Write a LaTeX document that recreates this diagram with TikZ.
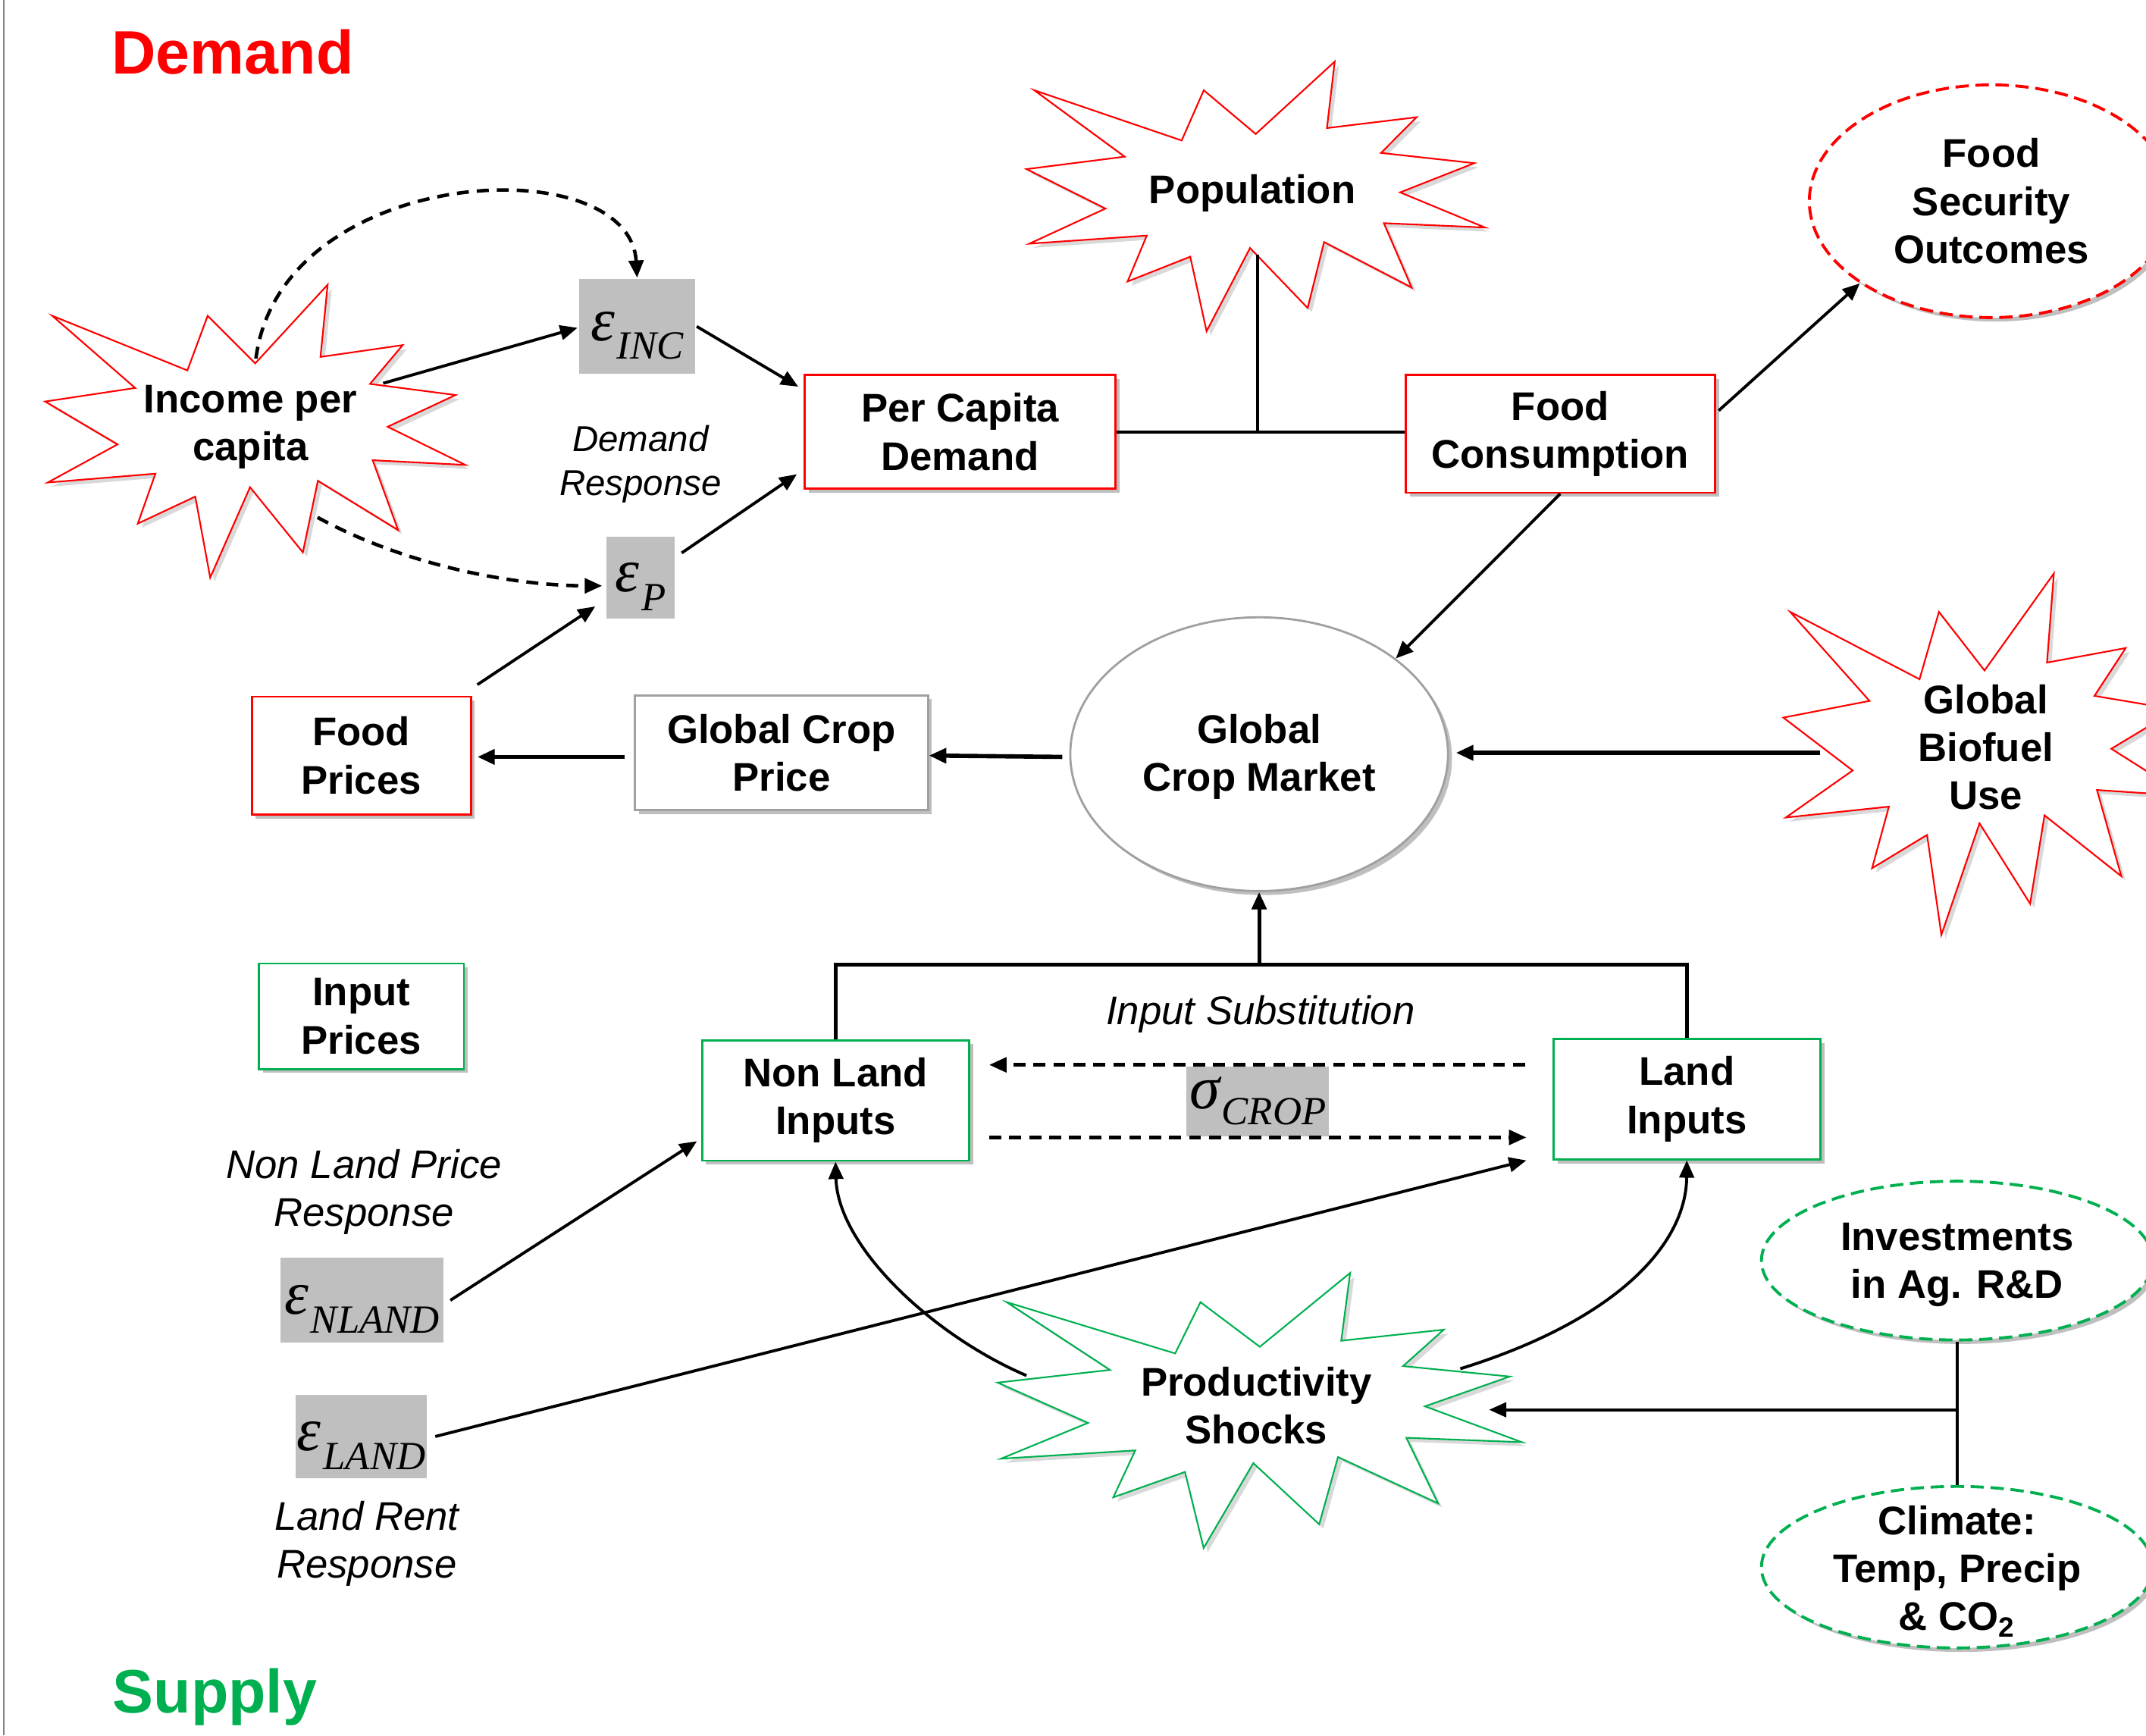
\documentclass[tikz,border=0pt]{standalone}
\usepackage{fontspec}
\setmainfont{Liberation Sans}
\newfontfamily\tnr{Liberation Serif}
\usetikzlibrary{arrows.meta,shapes.geometric,calc,shadows}
\definecolor{dred}{HTML}{FF0000}
\definecolor{dgreen}{HTML}{00B050}
\definecolor{boxgray}{HTML}{BFBFBF}
\definecolor{edgegray}{HTML}{A0A0A0}
\def\unitpx{0.018055cm}
\newcommand\sealcmd[1]{#1 (50,26.85) -- (67.23,0) -- (65.53,24.65) -- (85.09,20.63) -- (77.32,33.87) -- (97.67,37.67) -- (81.51,48.50) -- (100,61.53) -- (77.95,59.92) -- (84.00,83.77) -- (64.91,66.93) -- (61.33,91.38) -- (48.76,69.14) -- (39.28,100) -- (35.72,72.35) -- (22.05,81.56) -- (26.24,64.52) -- (0.625,67.53) -- (17.23,54.51) -- (0,39.88) -- (21.42,35.26) -- (1.71,10.63) -- (33.85,29.26) -- (38.67,10.63) -- cycle;}
\newcommand\drawseal[5]{%
  \begin{scope}[shift={(#1+3,#2+3)},xscale=#3/100,yscale=#4/100]
    \sealcmd{\fill[black,opacity=0.15]}
  \end{scope}
  \begin{scope}[shift={(#1,#2)},xscale=#3/100,yscale=#4/100]
    \sealcmd{\draw[#5,fill=white,line width=0.6pt]}
  \end{scope}}
\newcommand\epsl[3][-7pt]{{\tnr\itshape\fontsize{23}{23}\selectfont #2\hspace{0.8pt}\raisebox{#1}[0pt][0pt]{\fontsize{15}{15}\selectfont #3}}}
\begin{document}
\begin{tikzpicture}[x=0.018055cm,y=-0.018055cm,
  >={Triangle[length=6.5pt,width=5.5pt]}, line width=1.1pt,
  lbl/.style={font=\fontsize{15}{18}\selectfont\bfseries, align=center},
  itl/.style={font=\fontsize{15}{18}\selectfont\itshape, align=center},
  sz/.style 2 args={minimum width=#1*\unitpx, minimum height=#2*\unitpx, inner sep=0pt},
  shad/.style={drop shadow={shadow xshift=1.5pt,shadow yshift=-1.5pt,opacity=0.25,fill=black}},
  redbox/.style={lbl, draw=dred, line width=0.8pt, fill=white, shad},
  greenbox/.style={lbl, draw=dgreen, line width=0.8pt, fill=white, shad},
  graybox/.style={lbl, draw=edgegray, line width=0.8pt, fill=white, shad},
  epsbox/.style={fill=boxgray, inner sep=0pt},
  dsh/.style={dash pattern=on 4.5pt off 3pt, line width=1.3pt},
  edash/.style={dash pattern=on 5pt off 2.5pt, line width=1.1pt},
  thickln/.style={line width=1.6pt}]
\useasboundingbox (0,0) rectangle (1568,1268);
\fill[white] (0,0) rectangle (1568,1268);
\draw[gray,line width=0.6pt] (3,0) -- (3,1268);

% starbursts
\drawseal{33}{208}{307}{214}{dred}
\drawseal{750}{45}{335}{197}{dred}
\drawseal{1303}{419}{294}{264}{dred}
\drawseal{729}{930}{383}{201}{dgreen}

% titles
\node[font=\fontsize{23}{26}\selectfont\bfseries,text=dred] (demand) at (170,38) {Demand};
\node[font=\fontsize{23}{26}\selectfont\bfseries,text=dgreen] (supply) at (157,1240) {Supply};

% starburst texts
\node[lbl] (income) at (183,312) {Income per\\capita};
\node[lbl] (pop) at (915,141) {Population};
\node[lbl] (bio) at (1451,546) {Global\\Biofuel\\Use};
\node[lbl] (prod) at (918,1027) {Productivity\\Shocks};

% boxes
\node[redbox,sz={227}{83}] (pcd) at (701.5,315.5) {Per Capita\\Demand};
\node[redbox,sz={226}{86}] (fcons) at (1140,317) {Food\\Consumption};
\node[redbox,sz={160}{86}] (fprices) at (264,552) {Food\\Prices};
\node[graybox,sz={214}{84}] (gcp) at (571,550) {Global Crop\\Price};
\node[greenbox,sz={150}{77}] (inprices) at (264,742.5) {Input\\Prices};
\node[greenbox,sz={195}{88}] (nli) at (610.5,804) {Non Land\\Inputs};
\node[greenbox,sz={195}{88}] (li) at (1232.5,803) {Land\\Inputs};

% ellipses
\node[ellipse,draw=edgegray,line width=0.8pt,fill=white,shad,sz={276}{200}] (gcm) at (920,551) {};
\node[lbl] (gcmt) at (920,553) {Global\\Crop Market};
\node[lbl,ellipse,draw=dred,edash,fill=white,shad,sz={266}{170}] (fso) at (1455,147) {Food\\Security\\Outcomes};
\node[ellipse,draw=dgreen,edash,fill=white,shad,sz={286}{116}] (invest) at (1430,921) {};
\node[lbl] (investt) at (1430,924) {Investments\\in Ag. R\&D};
\node[ellipse,draw=dgreen,edash,fill=white,shad,sz={286}{118}] (climate) at (1430,1145) {};
\node[lbl] (climatet) at (1430,1148) {Climate:\\Temp, Precip\\\& CO\textsubscript{2}};

% gray parameter boxes
\node[epsbox,sz={85}{69}] (einc) at (465.5,238.5) {\epsl{ε}{INC}};
\node[epsbox,sz={50}{60}] (ep) at (468,422) {\epsl{ε}{P}};
\node[epsbox,sz={104}{51}] (sig) at (919,804.5) {\raisebox{-2.8pt}[0pt][0pt]{\epsl[-6pt]{σ}{CROP}}};
\node[epsbox,sz={119}{62}] (enland) at (264.5,950) {\epsl{ε}{NLAND}};
\node[epsbox,sz={96}{61}] (eland) at (264,1049.5) {\epsl{ε}{LAND}};

% italic labels
\node[itl,font=\fontsize{13.5}{16.5}\selectfont\itshape] (demresp) at (468,339) {Demand\\Response};
\node[itl] (insub) at (921,741) {Input Substitution};
\node[itl] (nlpr) at (266,871) {Non Land Price\\Response};
\node[itl] (lrr) at (268,1128) {Land Rent\\Response};

% connector end points on irregular shapes
\coordinate (incR) at (280,280);
\coordinate (incT) at (187,262);
\coordinate (incB) at (232,378);
\coordinate (popB) at (919,186);
\coordinate (bioL) at (1330,550);
\coordinate (prodL) at (750,1005);
\coordinate (prodR) at (1067,1000);
\coordinate (prodE) at (1088,1030);
\coordinate (bar) at (920,705);
\coordinate (jc) at (1430,1030);

% demand side connectors
\draw[->] (incR) -- ($(einc.west)+(0,1)$);
\draw[->] (einc.east) -- ($(pcd.west)+(-4,-33)$);
\draw[->] ($(ep.east)+(4,-18)$) -- ($(pcd.west)+(-5,31)$);
\draw[->] ($(fprices.north east)+(4,-8)$) -- ($(ep.south west)+(-7,-10)$);
\draw[dsh,->] (incT) .. controls (205,120) and (460,107) .. (einc.north);
\draw[dsh,->] (incB) .. controls (300,415) and (380,428) .. ($(ep.west)+(-2,6)$);
\draw (pcd.east) -- (pcd.east -| fcons.west);
\draw (popB) -- (popB |- pcd.east);
\draw[->] ($(fcons.east)+(2,-17)$) -- (fso.212);
\draw[->] (fcons.south) -- (gcm.35);
\draw[->,thickln] ($(gcm.west)+(-5,2)$) -- ($(gcp.east)+(0,2)$);
\draw[->,thickln] ($(gcp.west)+(-7,3)$) -- ($(fprices.east)+(4,1)$);
\draw[->,thickln] (bioL) -- ($(gcm.east)+(5,-1)$);

% supply side connectors
\draw[line width=1.4pt] (nli.north) -- (nli.north |- bar) -- (li.north |- bar) -- (li.north);
\draw[->,line width=1.4pt] (bar) -- (gcm.south);
\draw[dsh,->] ($(li.west)+(-20,-25)$) -- ($(nli.east)+(14,-26)$);
\draw[dsh,->] ($(nli.east)+(14,27)$) -- ($(li.west)+(-19,28)$);
\draw[->] ($(enland.east)+(4,0)$) -- ($(nli.south west)+(-3,-15)$);
\draw[->] ($(eland.east)+(5,0)$) -- ($(li.south west)+(-19,0)$);
\draw[->] (prodL) .. controls (680,975) and (612,910) .. (nli.south);
\draw[->] (prodR) .. controls (1180,965) and (1232,910) .. (li.south);
\draw (invest.south) -- (climate.north);
\draw[->] (jc) -- (prodE);
\end{tikzpicture}
\end{document}
